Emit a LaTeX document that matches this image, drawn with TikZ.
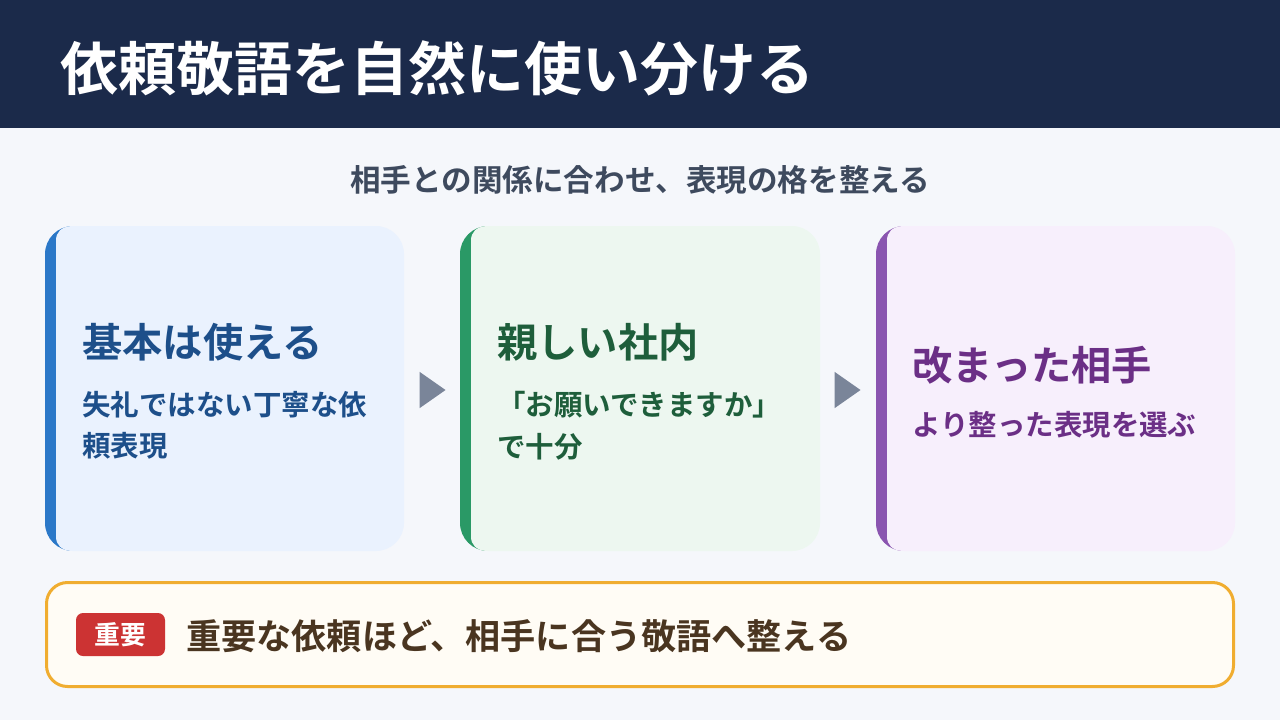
\documentclass[tikz,border=0pt]{standalone}
\usepackage{fontspec}
\setmainfont{Noto Sans CJK JP}[BoldFont={Noto Sans CJK JP Bold}]
\usetikzlibrary{shapes.geometric}

\definecolor{pagebg}{HTML}{F5F7FB}
\definecolor{navy}{HTML}{1B2A4A}
\definecolor{subgray}{HTML}{3E4A5E}
\definecolor{arrgray}{HTML}{7A8599}
\definecolor{blueacc}{HTML}{2B78C8}
\definecolor{bluefill}{HTML}{EAF2FE}
\definecolor{bluetext}{HTML}{1D4F8A}
\definecolor{greenacc}{HTML}{2A9966}
\definecolor{greenfill}{HTML}{EDF7F0}
\definecolor{greentext}{HTML}{1E5E3B}
\definecolor{purpacc}{HTML}{8A55B0}
\definecolor{purpfill}{HTML}{F7EFFC}
\definecolor{purptext}{HTML}{6B2F86}
\definecolor{notefill}{HTML}{FFFCF5}
\definecolor{noteline}{HTML}{F0AD30}
\definecolor{notetext}{HTML}{4A3520}
\definecolor{badgered}{HTML}{CC3333}

\tikzset{
  cardtitle/.style={anchor=west, inner sep=0pt, font=\fontsize{22.9}{26}\selectfont\bfseries},
  cardbody/.style={anchor=west, inner sep=0pt, font=\fontsize{16.2}{20}\selectfont\bfseries},
  nextarrow/.style={isosceles triangle, isosceles triangle apex angle=70, fill=arrgray,
    inner sep=0pt, minimum height=26*0.02cm, minimum width=29*0.02cm}
}

\begin{document}
\begin{tikzpicture}[x=0.02cm, y=-0.02cm]
  \useasboundingbox (0,0) rectangle (1280,720);
  \fill[pagebg] (0,0) rectangle (1280,720);
  % header
  \fill[navy] (0,0) rectangle (1280,128);
  \node[anchor=west, inner sep=0pt, text=white, font=\fontsize{33}{40}\selectfont\bfseries]
    (title) at (60,68) {依頼敬語を自然に使い分ける};
  \node[inner sep=0pt, text=subgray, font=\fontsize{17.4}{20}\selectfont\bfseries]
    (sub) at (640,180) {相手との関係に合わせ、表現の格を整える};

  % card 1
  \begin{scope}
    \clip[rounded corners=16] (45,226) rectangle (404,551);
    \fill[blueacc] (45,226) rectangle (80,551);
    \fill[bluefill, rounded corners=8] (56,226) rectangle (420,551);
  \end{scope}
  \node[cardtitle, text=bluetext] (t1) at (82,342) {基本は使える};
  \node[cardbody, text=bluetext] (b1a) at (82,405) {失礼ではない丁寧な依};
  \node[cardbody, text=bluetext] (b1b) at (82,446) {頼表現};

  % card 2
  \begin{scope}
    \clip[rounded corners=16] (460,226) rectangle (820,551);
    \fill[greenacc] (460,226) rectangle (495,551);
    \fill[greenfill, rounded corners=8] (471,226) rectangle (836,551);
  \end{scope}
  \node[cardtitle, text=greentext] (t2) at (497,342) {親しい社内};
  \node[cardbody, text=greentext] (b2a) at (497,405) {「お願いできますか」};
  \node[cardbody, text=greentext] (b2b) at (497,447) {で十分};

  % card 3
  \begin{scope}
    \clip[rounded corners=16] (876,226) rectangle (1235,551);
    \fill[purpacc] (876,226) rectangle (911,551);
    \fill[purpfill, rounded corners=8] (887,226) rectangle (1251,551);
  \end{scope}
  \node[cardtitle, text=purptext] (t3) at (912,365) {改まった相手};
  \node[cardbody, text=purptext] (b3) at (912,425) {より整った表現を選ぶ};

  % arrows between cards
  \node[nextarrow] (arr1) at (429,390) {};
  \node[nextarrow] (arr2) at (844,390) {};

  % note box
  \draw[noteline, fill=notefill, line width=3*0.02cm, rounded corners=12]
    (46.5,582.5) rectangle (1233.5,686.5);
  \node[fill=badgered, rounded corners=4, minimum width=89*0.02cm, minimum height=43*0.02cm,
    inner sep=0pt, text=white, font=\fontsize{14.7}{16}\selectfont\bfseries]
    (badge) at (120.5,634.5) {重要};
  \node[anchor=west, inner sep=0pt, text=notetext, font=\fontsize{20}{24}\selectfont\bfseries]
    (note) at (186,636) {重要な依頼ほど、相手に合う敬語へ整える};
\end{tikzpicture}
\end{document}
